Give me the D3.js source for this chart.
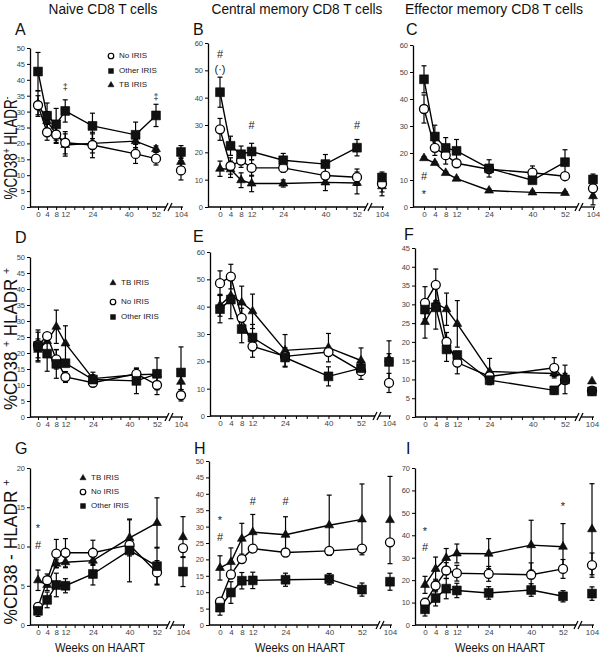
<!DOCTYPE html>
<html><head><meta charset="utf-8">
<script src="https://cdn.jsdelivr.net/npm/d3@7"></script>
<style>body{margin:0;background:#fff}svg{display:block;font-family:"Liberation Sans",Arial,sans-serif}</style>
</head><body>
<svg id="chart" width="600" height="655"></svg>
<script>
// ---------- data ----------
const weeks   = [0, 4, 8, 12, 24, 40, 52, 104];
const weeksAD = [0, 4, 8, 12, 24, 43, 52, 104];
const weeksF  = [0, 4, 8, 12, 24, 48, 52, 104];
const tickWeeks  = [0, 4, 8, 12, 24, 40, 52, 104];
const minorWeeks = [0, 4, 8, 12, 16, 20, 24, 28, 32, 36, 40, 44, 48, 52, 104];
const seriesNames = ["No IRIS", "Other IRIS", "TB IRIS"];
const columnTitles = ["Naive CD8 T cells", "Central memory CD8 T cells", "Effector memory CD8 T cells"];
const xTitle = "Weeks on HAART";

// Panel A
const A_noIRIS    = [32.0, 23.5, 22.8, 20.2, 19.5, 16.7, 15.2, 11.5];
const A_noIRIS_err= [3, 2.5, 2.5, 3.5, 4, 3, 2, 3];
const A_other     = [42.6, 28.7, 26.0, 30.2, 25.5, 22.7, 28.8, 17.3];
const A_other_err = [6, 4, 5, 3.5, 4, 4, 3.5, 2];
const A_tb        = [32.5, 27.0, 23.0, 19.5, 20.0, 20.7, 18.2, 14.2];
const A_tb_err    = [4, 3, 3, 3.5, 3, 2.5, 1, 1.5];
// Panel B
const B_noIRIS    = [28.4, 15.0, 17.0, 14.3, 14.3, 11.5, 10.9, 8.5];
const B_noIRIS_err= [4, 3, 2.5, 3, 1.5, 3, 3, 3];
const B_other     = [42.0, 22.4, 19.3, 20.3, 17.1, 15.7, 21.7, 10.8];
const B_other_err = [5.5, 3.5, 3, 3, 2.5, 3.5, 3, 2];
const B_tb        = [14.0, 13.8, 9.8, 8.6, 8.6, 9.0, 8.8, 7.6];
const B_tb_err    = [2.8, 3, 2.7, 3, 1.3, 3, 4, 3.5];
// Panel C
const C_noIRIS    = [36.3, 21.9, 19.2, 16.2, 14.0, 12.7, 11.4, 6.9];
const C_noIRIS_err= [5.2, 2.8, 3.3, 0, 0, 2.5, 0, 2.5];
const C_other     = [47.3, 26.1, 21.9, 20.8, 14.3, 9.9, 16.6, 10.2];
const C_other_err = [5, 4.2, 3.8, 4.2, 3.2, 1, 4.6, 2];
const C_tb        = [18.1, 16.3, 12.6, 10.5, 6.1, 5.4, 5.2, 4.0];
const C_tb_err    = [0.5, 0.5, 0.5, 0.5, 0.5, 0.5, 0.5, 3.2];
// Panel D
const D_noIRIS    = [22.5, 25.3, 18.0, 12.5, 10.7, 13.5, 10.0, 6.8];
const D_noIRIS_err= [4, 0, 3, 1.7, 0.8, 1.5, 3, 1.8];
const D_other     = [22.2, 19.8, 16.6, 16.8, 11.7, 11.3, 13.5, 13.9];
const D_other_err = [5, 5.5, 4.5, 0, 1.5, 4, 5, 8];
const D_tb        = [21.0, 23.7, 28.2, 23.0, 12.0, 13.2, 13.4, 11.0];
const D_tb_err    = [3.4, 0, 5.2, 5.5, 2, 2, 1, 2.5];
// Panel E
const E_noIRIS    = [48.6, 51.0, 35.9, 25.5, 21.8, 23.4, 16.4, 12.1];
const E_noIRIS_err= [4.5, 4.5, 3.5, 4, 0, 0, 3, 3.5];
const E_other     = [39.1, 42.6, 31.8, 28.7, 21.4, 14.5, 17.5, 19.8];
const E_other_err = [5, 7, 5, 4.8, 3.5, 3.5, 0, 7.7];
const E_tb        = [40.5, 44.0, 41.5, 38.3, 24.0, 25.0, 20.3, 20.8];
const E_tb_err    = [4, 0, 6, 6.3, 5.8, 5.2, 4.6, 2];
// Panel F
const F_noIRIS    = [30.4, 35.2, 20.0, 14.5, 10.8, 13.1, 9.8, 7.0];
const F_noIRIS_err= [4.3, 4.2, 2.5, 3, 1, 2.7, 0, 1];
const F_other     = [28.6, 29.2, 18.0, 16.5, 9.8, 7.1, 10.0, 6.8];
const F_other_err = [0.7, 5.8, 3.2, 0, 0.8, 1, 3.8, 0.8];
const F_tb        = [25.3, 30.3, 28.7, 24.8, 12.1, 11.6, 10.8, 9.5];
const F_tb_err    = [4.3, 0, 4.3, 6.2, 3.5, 0.8, 0.8, 0];
// Panel G
const G_noIRIS    = [2.3, 5.7, 9.1, 9.2, 9.2, 10.2, 6.7, 9.8];
const G_noIRIS_err= [0.5, 0.8, 1.8, 1.8, 1.6, 0, 1.5, 0];
const G_other     = [1.8, 3.2, 5.1, 5.0, 6.5, 9.5, 7.5, 6.8];
const G_other_err = [0.7, 1, 1.5, 0.9, 1.4, 4, 2.4, 1.9];
const G_tb        = [5.7, 5.1, 7.8, 8.0, 8.2, 11.1, 13.0, 11.2];
const G_tb_err    = [1.3, 0.7, 0.5, 0.7, 0.5, 2.3, 3.2, 2.6];
// Panel H
const H_noIRIS    = [7.1, 15.4, 20.1, 23.3, 22.1, 22.6, 23.3, 25.2];
const H_noIRIS_err= [0, 0, 0, 0, 0, 0, 0, 0];
const H_other     = [5.3, 9.9, 13.5, 13.6, 13.8, 14.0, 10.8, 13.2];
const H_other_err = [2.3, 3.3, 2.5, 2.5, 2, 1.7, 2, 2.6];
const H_tb        = [17.4, 19.2, 26.3, 28.3, 27.5, 30.4, 32.2, 32.0];
const H_tb_err    = [3.7, 4.3, 4.7, 5.4, 5.5, 9.2, 10.8, 13.3];
// Panel I
const I_noIRIS    = [9.9, 17.6, 24.3, 23.1, 22.8, 22.4, 25.0, 26.7];
const I_noIRIS_err= [2, 2.8, 3.5, 3.5, 3.3, 5.3, 4.2, 5.4];
const I_other     = [7.0, 12.0, 16.2, 15.4, 14.3, 15.6, 12.8, 14.0];
const I_other_err = [3, 3.5, 4.5, 3.2, 2.8, 2.8, 2.5, 3];
const I_tb        = [17.9, 25.0, 29.9, 31.9, 31.8, 35.6, 34.9, 42.7];
const I_tb_err    = [3.8, 5.3, 4.2, 4.2, 6.7, 11.1, 10.3, 20.3];

// significance marks [week, value, symbol]
const A_notes = [[12, 37.5, "‡"], [52, 34.5, "‡"]];
const B_notes = [[0, 55.5, "#"], [0, 50, "(·)"], [12, 29.5, "#"], [52, 29.5, "#"]];
const C_notes = [[0, 11, "#"], [0, 4.3, "*"]];
const G_notes = [[0, 12.2, "*"], [0, 10.1, "#"]];
const H_notes = [[0, 31.8, "*"], [0, 26.5, "#"], [12, 37.5, "#"], [24, 37.5, "#"]];
const I_notes = [[0, 41.5, "*"], [0, 34.5, "#"], [52, 52.5, "*"]];

// ---------- layout ----------
const panels = [
 {L:"A", w:weeksAD, v:[A_noIRIS,A_other,A_tb], e:[A_noIRIS_err,A_other_err,A_tb_err], ymax:50, step:5, n:A_notes,
  ax:30, x0:38, x52:156, x104:181, brk:168, yb:207, yt:48, lx:15, ly:35},
 {L:"B", w:weeks, v:[B_noIRIS,B_other,B_tb], e:[B_noIRIS_err,B_other_err,B_tb_err], ymax:60, step:10, n:B_notes,
  ax:208, x0:220, x52:357, x104:382, brk:368, yb:207, yt:43, lx:193, ly:35},
 {L:"C", w:weeks, v:[C_noIRIS,C_other,C_tb], e:[C_noIRIS_err,C_other_err,C_tb_err], ymax:60, step:10, n:C_notes,
  ax:413, x0:424, x52:565, x104:593, brk:579, yb:207, yt:45, lx:406, ly:35},
 {L:"D", w:weeksAD, v:[D_noIRIS,D_other,D_tb], e:[D_noIRIS_err,D_other_err,D_tb_err], ymax:50, step:5, n:[],
  ax:30, x0:38, x52:157, x104:181, brk:169, yb:417, yt:257, lx:15, ly:243},
 {L:"E", w:weeks, v:[E_noIRIS,E_other,E_tb], e:[E_noIRIS_err,E_other_err,E_tb_err], ymax:60, step:10, n:[],
  ax:210, x0:220, x52:361, x104:389, brk:377, yb:416, yt:252, lx:193, ly:242},
 {L:"F", w:weeksF, v:[F_noIRIS,F_other,F_tb], e:[F_noIRIS_err,F_other_err,F_tb_err], ymax:45, step:5, n:[],
  ax:415, x0:425, x52:565, x104:592, brk:579, yb:417, yt:248, lx:404, ly:240},
 {L:"G", w:weeks, v:[G_noIRIS,G_other,G_tb], e:[G_noIRIS_err,G_other_err,G_tb_err], ymax:20, step:5, n:G_notes,
  ax:30, x0:38, x52:157, x104:183, brk:170, yb:625, yt:468, lx:15, ly:454},
 {L:"H", w:weeks, v:[H_noIRIS,H_other,H_tb], e:[H_noIRIS_err,H_other_err,H_tb_err], ymax:50, step:5, n:H_notes,
  ax:209, x0:220, x52:362, x104:390, brk:380, yb:625, yt:461, lx:194, ly:454},
 {L:"I", w:weeks, v:[I_noIRIS,I_other,I_tb], e:[I_noIRIS_err,I_other_err,I_tb_err], ymax:70, step:10, n:I_notes,
  ax:415, x0:425, x52:563, x104:592, brk:578, yb:625, yt:468, lx:406, ly:454}
];

const svg = d3.select("#chart");
const sym = [d3.symbolCircle, d3.symbolSquare, d3.symbolTriangle];
const symSize = [64, 78, 34];
const drawOrder = [2, 0, 1];

function squeeze(sel, targetLen) {
  const w = sel.node().getComputedTextLength();
  return w > 0 ? targetLen / w : 1;
}

panels.forEach(p => {
  const g = svg.append("g");
  const x = d3.scaleLinear().domain([0, 52, 104]).range([p.x0, p.x52, p.x104]);
  const y = d3.scaleLinear().domain([0, p.ymax]).range([p.yb, p.yt]);

  // y axis
  const ya = g.append("g").attr("transform", `translate(${p.ax},0)`)
    .call(d3.axisLeft(y).tickValues(d3.range(0, p.ymax + 0.01, p.step)).tickSize(3).tickSizeOuter(0).tickPadding(2));
  ya.select(".domain").attr("stroke", "#000").attr("stroke-width", 1.3);
  ya.selectAll(".tick line").attr("stroke", "#000").attr("stroke-width", 1);
  ya.selectAll(".tick text").attr("font-size", 7.5).attr("fill", "#444")
    .attr("font-family", "'Liberation Sans',Arial,sans-serif");

  // x axis
  const xa = g.append("g").attr("transform", `translate(0,${p.yb})`)
    .call(d3.axisBottom(x).tickValues(minorWeeks).tickSize(3).tickSizeOuter(0).tickPadding(1.5)
      .tickFormat(d => tickWeeks.includes(d) ? d : ""));
  xa.select(".domain").remove();
  xa.selectAll(".tick line").attr("stroke", "#000").attr("stroke-width", 1);
  xa.selectAll(".tick text").attr("font-size", 8).attr("fill", "#444")
    .attr("font-family", "'Liberation Sans',Arial,sans-serif");
  g.append("line").attr("x1", p.ax).attr("x2", p.brk - 2).attr("y1", p.yb).attr("y2", p.yb)
    .attr("stroke", "#000").attr("stroke-width", 1.3);
  g.append("line").attr("x1", p.brk + 2).attr("x2", x(104) + 2).attr("y1", p.yb).attr("y2", p.yb)
    .attr("stroke", "#000").attr("stroke-width", 1.3);
  [-2, 2].forEach(o => g.append("line")
    .attr("x1", p.brk + o - 2).attr("y1", p.yb + 4).attr("x2", p.brk + o + 2).attr("y2", p.yb - 4)
    .attr("stroke", "#000").attr("stroke-width", 1.3));

  // lines (through week 52 only)
  const line = d3.line().x(d => x(d[0])).y(d => y(d[1]));
  drawOrder.forEach(si => {
    const pts = p.w.map((wk, i) => [wk, p.v[si][i]]).filter(d => d[0] <= 52);
    g.append("path").attr("d", line(pts)).attr("fill", "none").attr("stroke", "#000").attr("stroke-width", 1.4);
  });
  // error bars
  drawOrder.forEach(si => {
    p.w.forEach((wk, i) => {
      const e = p.e[si][i]; if (!e) return;
      const cx = x(wk), yh = y(p.v[si][i] + e), yl = y(Math.max(0, p.v[si][i] - e));
      g.append("line").attr("x1", cx).attr("x2", cx).attr("y1", yh).attr("y2", yl).attr("stroke", "#000").attr("stroke-width", 1.2);
      [yh, yl].forEach(yy => g.append("line").attr("x1", cx - 2.5).attr("x2", cx + 2.5).attr("y1", yy).attr("y2", yy)
        .attr("stroke", "#000").attr("stroke-width", 1.2));
    });
  });
  // markers
  drawOrder.forEach(si => {
    g.selectAll(null).data(p.w.map((wk, i) => [wk, p.v[si][i]])).enter().append("path")
      .attr("d", d3.symbol().type(sym[si]).size(symSize[si]))
      .attr("transform", d => `translate(${x(d[0])},${y(d[1])})`)
      .attr("fill", si === 0 ? "#fff" : "#111").attr("stroke", "#000").attr("stroke-width", si === 0 ? 1.3 : 0.6);
  });
  // notes
  p.n.forEach(nt => {
    g.append("text").attr("x", x(nt[0])).attr("y", y(nt[1])).attr("text-anchor", "middle")
      .attr("dominant-baseline", "middle").attr("font-size", nt[2] === "‡" ? 9 : 11).attr("fill", "#222")
      .text(nt[2]);
  });
  // panel letter
  g.append("text").attr("x", p.lx).attr("y", p.ly).attr("font-size", 16).attr("fill", "#111").text(p.L);
});

// legends
function legend(mx, rows, order) {
  order.forEach((si, k) => {
    svg.append("path").attr("d", d3.symbol().type(sym[si]).size(si === 2 ? 16 : 24))
      .attr("transform", `translate(${mx},${rows[k]})`)
      .attr("fill", si === 0 ? "#fff" : "#111").attr("stroke", "#000").attr("stroke-width", si === 0 ? 1.2 : 0.5);
    svg.append("text").attr("x", mx + 8).attr("y", rows[k]).attr("dominant-baseline", "middle")
      .attr("font-size", 8).attr("fill", "#222").text(seriesNames[si]);
  });
}
legend(111, [56, 71, 85], [0, 1, 2]);
legend(113, [283, 302, 317], [2, 0, 1]);
legend(83, [478, 492, 506], [2, 0, 1]);

// column titles
const titleSpec = [[103, 109], [297, 171], [494, 178]];
columnTitles.forEach((t, i) => {
  const tx = svg.append("text").attr("x", 0).attr("y", 0).attr("font-size", 15).attr("fill", "#111")
    .attr("text-anchor", "middle").text(t);
  const s = squeeze(tx, titleSpec[i][1]);
  tx.attr("transform", `translate(${titleSpec[i][0]},14) scale(${s},1)`);
});
// x titles
[100, 300, 500].forEach(cx => {
  const tx = svg.append("text").attr("x", 0).attr("y", 0).attr("font-size", 12.5).attr("fill", "#111")
    .attr("text-anchor", "middle").text(xTitle);
  const s = squeeze(tx, 90);
  tx.attr("transform", `translate(${cx},652) scale(${s},1)`);
});
// y titles
const yTitles = [
  {cy:148, len:103, parts:[["%CD38",0],["+",1],[" HLADR",0],["-",1]]},
  {cy:339, len:142, parts:[["%CD38 ",0],["+",1],[" HLADR ",0],["+",1]]},
  {cy:552, len:145, parts:[["%CD38 - HLADR ",0],["+",1]]}
];
yTitles.forEach(t => {
  const tx = svg.append("text").attr("x", 0).attr("y", 0).attr("font-size", 18).attr("fill", "#111")
    .attr("text-anchor", "middle");
  t.parts.forEach((pt, i) => {
    const ts = tx.append("tspan").text(pt[0]);
    if (pt[1]) ts.attr("font-size", 11).attr("dy", -7);
    else ts.attr("dy", i > 0 && t.parts[i - 1][1] ? 7 : 0);
  });
  const s = squeeze(tx, t.len);
  tx.attr("transform", `translate(17,${t.cy}) rotate(-90) scale(${s},1)`);
});
</script>
</body></html>
